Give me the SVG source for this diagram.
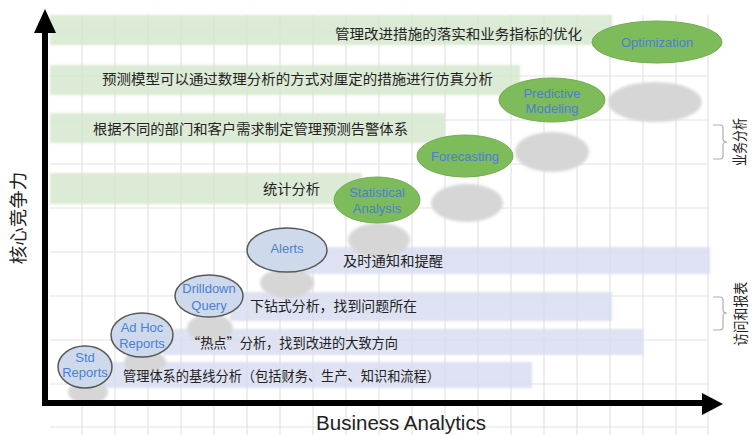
<svg xmlns="http://www.w3.org/2000/svg" width="752" height="435" viewBox="0 0 752 435">
<style>
.grid line{stroke:#e3e3e3;stroke-width:1.2}
.gband{fill:#d6e8ce;fill-opacity:0.85}
.bband{fill:#d8ddf0;fill-opacity:0.85}
.shadow{fill:#d6d6d6;filter:url(#soft)}
.green{fill:#7dbb5b;stroke:#70ad50;stroke-width:1}
.blue{fill:#cfd9ec;stroke:#595959;stroke-width:1.5}
.lbl{font-family:"Liberation Sans",Arial,sans-serif;font-size:13px;fill:#4a80d0;text-anchor:middle}
.cn{font-family:"Noto Sans CJK SC","Noto Sans",sans-serif;font-size:14px;fill:#222}
.side{font-family:"Noto Sans CJK SC","Noto Sans",sans-serif;font-size:15px;fill:#222;text-anchor:middle}
.brace{fill:none;stroke:#b0b0b0;stroke-width:1.2}
.axis{stroke:#000;stroke-width:6;fill:none}
</style>
<defs>
<filter id="soft" x="-20%" y="-20%" width="140%" height="140%"><feGaussianBlur stdDeviation="1.5"/></filter>
<filter id="bsoft" x="-5%" y="-30%" width="110%" height="160%"><feGaussianBlur stdDeviation="0.8"/></filter>
</defs>
<rect width="752" height="435" fill="#fff"/>
<g id="grid" class="grid">
<line x1="82" y1="15" x2="82" y2="435"/><line x1="115" y1="15" x2="115" y2="435"/><line x1="148" y1="15" x2="148" y2="435"/><line x1="181" y1="15" x2="181" y2="435"/><line x1="214" y1="15" x2="214" y2="435"/><line x1="247" y1="15" x2="247" y2="435"/><line x1="280" y1="15" x2="280" y2="435"/><line x1="313" y1="15" x2="313" y2="435"/><line x1="346" y1="15" x2="346" y2="435"/><line x1="379" y1="15" x2="379" y2="435"/><line x1="412" y1="15" x2="412" y2="435"/><line x1="445" y1="15" x2="445" y2="435"/><line x1="478" y1="15" x2="478" y2="435"/><line x1="511" y1="15" x2="511" y2="435"/><line x1="544" y1="15" x2="544" y2="435"/><line x1="577" y1="15" x2="577" y2="435"/><line x1="610" y1="15" x2="610" y2="435"/><line x1="643" y1="15" x2="643" y2="435"/><line x1="676" y1="15" x2="676" y2="435"/><line x1="708" y1="15" x2="708" y2="435"/>
<line x1="50" y1="32" x2="708" y2="32"/><line x1="50" y1="76" x2="708" y2="76"/><line x1="50" y1="120" x2="708" y2="120"/><line x1="50" y1="164" x2="708" y2="164"/><line x1="50" y1="208" x2="708" y2="208"/><line x1="50" y1="252" x2="708" y2="252"/><line x1="50" y1="296" x2="708" y2="296"/><line x1="50" y1="340" x2="708" y2="340"/><line x1="50" y1="384" x2="708" y2="384"/><line x1="50" y1="427" x2="708" y2="427"/>
</g>
<g id="bands" filter="url(#bsoft)">
<rect class="gband" x="50" y="15" width="562" height="30"/>
<rect class="gband" x="50" y="65" width="470" height="30"/>
<rect class="gband" x="50" y="113" width="395" height="30"/>
<rect class="gband" x="50" y="173" width="312" height="31"/>
<rect class="bband" x="300" y="247" width="410" height="27"/>
<rect class="bband" x="230" y="292" width="382" height="29"/>
<rect class="bband" x="163" y="329" width="480" height="26"/>
<rect class="bband" x="100" y="362" width="432" height="26"/>
</g>
<g id="shadows">
<ellipse class="shadow" cx="655" cy="102" rx="47" ry="20"/>
<ellipse class="shadow" cx="552" cy="152" rx="37" ry="20"/>
<ellipse class="shadow" cx="467" cy="203" rx="36" ry="19"/>
<ellipse class="shadow" cx="379" cy="240" rx="31" ry="17"/>
<ellipse class="shadow" cx="287" cy="283" rx="27" ry="15"/>
<ellipse class="shadow" cx="210" cy="328" rx="23" ry="14"/>
<ellipse class="shadow" cx="145" cy="362" rx="21" ry="12"/>
<ellipse class="shadow" cx="88" cy="392" rx="20" ry="12"/>
</g>
<g id="band-texts">
<text class="cn" x="335" y="39" textLength="247" lengthAdjust="spacingAndGlyphs">管理改进措施的落实和业务指标的优化</text>
<text class="cn" x="102" y="84" textLength="391" lengthAdjust="spacingAndGlyphs">预测模型可以通过数理分析的方式对厘定的措施进行仿真分析</text>
<text class="cn" x="93" y="134" textLength="315" lengthAdjust="spacingAndGlyphs">根据不同的部门和客户需求制定管理预测告警体系</text>
<text class="cn" x="263" y="193.5" textLength="57" lengthAdjust="spacingAndGlyphs">统计分析</text>
<text class="cn" x="343" y="266" textLength="100" lengthAdjust="spacingAndGlyphs">及时通知和提醒</text>
<text class="cn" x="250" y="311" textLength="167" lengthAdjust="spacingAndGlyphs">下钻式分析，找到问题所在</text>
<text class="cn" x="187" y="348" textLength="211" lengthAdjust="spacingAndGlyphs">“热点”分析，找到改进的大致方向</text>
<text class="cn" x="123" y="381" textLength="317" lengthAdjust="spacingAndGlyphs">管理体系的基线分析（包括财务、生产、知识和流程）</text>
</g>
<g id="node-optimization"><ellipse class="green" cx="657" cy="42" rx="65" ry="21"/><text class="lbl" x="657" y="46.5">Optimization</text></g>
<g id="node-predictive"><ellipse class="green" cx="552" cy="100" rx="53" ry="22"/><text class="lbl" x="552" y="97.5">Predictive</text><text class="lbl" x="552" y="112.5">Modeling</text></g>
<g id="node-forecasting"><ellipse class="green" cx="465" cy="156" rx="48" ry="21"/><text class="lbl" x="465" y="160.5">Forecasting</text></g>
<g id="node-statistical"><ellipse class="green" cx="377" cy="200" rx="43" ry="23"/><text class="lbl" x="377" y="196.5">Statistical</text><text class="lbl" x="377" y="212.5">Analysis</text></g>
<g id="node-alerts"><ellipse class="blue" cx="287" cy="250" rx="40" ry="22"/><text class="lbl" x="287" y="252.5">Alerts</text></g>
<g id="node-drilldown"><ellipse class="blue" cx="209" cy="296" rx="34" ry="21"/><text class="lbl" x="209" y="292.5">Drilldown</text><text class="lbl" x="209" y="309.5">Query</text></g>
<g id="node-adhoc"><ellipse class="blue" cx="142" cy="335" rx="31" ry="22"/><text class="lbl" x="142" y="331.5">Ad Hoc</text><text class="lbl" x="142" y="347.5">Reports</text></g>
<g id="node-std"><ellipse class="blue" cx="85" cy="367" rx="27" ry="21"/><text class="lbl" x="85" y="361.5">Std</text><text class="lbl" x="85" y="376.5">Reports</text></g>
<g id="axes">
<path class="axis" d="M45,30 V403 H704"/>
<polygon points="45,9 34,33 56,33" fill="#000"/>
<polygon points="723,404 702,393 702,415" fill="#000"/>
</g>
<g id="labels">
<text x="18" y="218" transform="rotate(-90 18 218)" dy="6.5" text-anchor="middle" font-family="Noto Sans CJK SC, Noto Sans, sans-serif" font-size="18.5" fill="#222">核心竞争力</text>
<text x="401" y="430" text-anchor="middle" font-family="Liberation Sans, Arial, sans-serif" font-size="20.5" fill="#222">Business Analytics</text>
<path class="brace" d="M713,125 H720 Q723,125 723,128 V139 Q723,142 727,142 Q723,142 723,145 V156 Q723,159 720,159 H713"/>
<text class="side" x="739" y="142" dy="5.5" transform="rotate(-90 739 142)" textLength="48" lengthAdjust="spacingAndGlyphs">业务分析</text>
<path class="brace" d="M713,297 H720 Q723,297 723,300 V310 Q723,313 727,313 Q723,313 723,316 V327 Q723,330 720,330 H713"/>
<text class="side" x="740" y="314" dy="5.5" transform="rotate(-90 740 314)" textLength="64" lengthAdjust="spacingAndGlyphs">访问和报表</text>
</g>
</svg>
